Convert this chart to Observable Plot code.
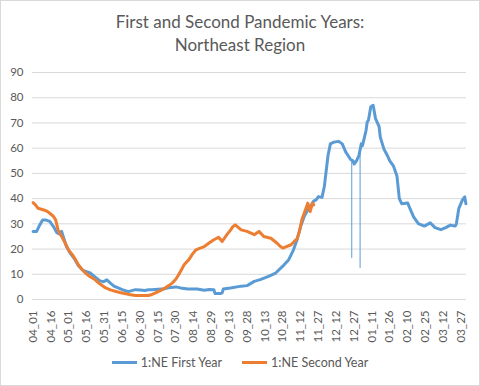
<!DOCTYPE html>
<html>
<head>
<meta charset="utf-8">
<script src="https://cdn.jsdelivr.net/npm/d3@7"></script>
<script src="https://cdn.jsdelivr.net/npm/@observablehq/plot@0.6"></script>
<style>
  body { margin: 0; background: #fff; }
  #wrap { position: relative; width: 480px; height: 386px; overflow: hidden; background: #fff; font-family: Lato, sans-serif; color: #595959; }
  #frame { position: absolute; left: 0; top: 0; right: 0; bottom: 0; border: 1px solid #d9d9d9; pointer-events: none; }
  #title { position: absolute; top: 10px; left: 0; width: 480px; text-align: center; font-size: 17px; line-height: 23px; }
  #chart { position: absolute; top: 0; left: 0; }
  #legend { position: absolute; top: 355px; left: 0; width: 480px; display: flex; justify-content: center; align-items: center; font-size: 12.5px; }
  .item { display: flex; align-items: center; margin: 0 10px; }
  .sw { width: 25px; height: 3px; margin-right: 4px; }
</style>
</head>
<body>
<div id="wrap">
  <div id="chart"></div>
  <div id="title">First and Second Pandemic Years:<br>Northeast Region</div>
  <div id="legend"></div>
  <div id="frame"></div>
</div>
<script>
// Day offsets from 04_01 (category index) and values
const firstDays = [0,3,5,8,11,14,17,20,22,24,26,28,31,35,38,42,45,48,52,56,59,62,65,68,72,75,80,83,86,90,94,97,100,105,111,116,120,124,130,138,144,148,152,153,158,159,160,166,175,180,186,191,198,204,210,215,219,222,225,228,231,234,236,238,240,243,245,246,248,250,253,257,260,263,265,267,269,270,272,274,276,277,279,280,281,282,284,286,288,291,292,295,298,300,303,306,308,310,315,317,320,324,329,334,338,343,347,351,355,356,358,361,363,364];
const firstValues = [27,27,29,31.5,31.5,31,29,26.5,26,27,24,21,18.5,16,13.5,11.5,11,10.5,9,7.5,7,7.8,6.5,5.3,4.5,3.9,3.1,3.5,3.9,3.8,3.6,3.9,3.9,4.1,4.3,4.8,5,4.6,4.2,4.2,3.7,4,3.9,2.4,2.4,2.6,4.2,4.6,5.3,5.5,7.2,7.9,9.2,10.5,13.2,15.8,19.7,23.7,28.9,32.9,35.5,37.5,39,39.5,40.8,40.5,45,49,57,61.7,62.4,62.7,61.7,58.4,57,55.5,55,53.7,55,57,61.7,61,65,67,70.4,71,76.4,77,71.7,68.5,64.4,59.7,57,55,53,49,40,38,38.3,36,32.8,30.1,29.1,30.4,28.5,27.7,28.5,29.5,29.1,30,36,39.4,40.7,38];
// Single-day drops in the first year
const spikeDays = [268, 275];
const spikeLows = [16.3, 12.3];
const spikeHighs = [55.3, 59];

const secondDays = [0,2,4,7,9,12,14,17,19,21,24,27,30,33,36,38,41,44,48,52,56,61,65,69,73,77,81,86,92,97,100,103,107,111,114,117,120,122,125,127,131,134,137,140,144,148,152,156,159,163,166,168,170,172,175,180,186,190,194,200,205,208,210,212,217,221,222,224,226,228,231,233,235,236];
const secondValues = [38.4,37.5,36.2,35.8,35.5,34.9,34.2,33,31.6,27.6,25,22.4,19.5,17.8,15.5,13.8,12,10.5,9,7.9,6.2,4.6,3.8,3.3,2.8,2.4,2,1.6,1.6,1.6,2,2.6,3.5,4.6,5.5,6.5,8,9.5,12,13.8,15.8,18,19.7,20.3,21,22.4,23.7,24.7,23,25.7,27.5,28.9,29.6,28.8,27.6,27,25.7,27,25,24.3,22.4,21,20.4,20.8,21.7,23.7,24,27,31.6,34.2,38.2,34.9,38.2,37.5];

const xTickLabels = ["04_01","04_16","05_01","05_16","05_31","06_15","06_30","07_15","07_30","08_14","08_29","09_13","09_28","10_13","10_28","11_12","11_27","12_12","12_27","01_11","01_26","02_10","02_25","03_12","03_27"];
const yTicks = [0,10,20,30,40,50,60,70,80,90];
const seriesNames = ["1:NE First Year", "1:NE Second Year"];
const colors = ["#5B9BD5", "#ED7D31"];

const DAY = 864e5;
const start = Date.UTC(2020, 3, 1);
const toDate = d => new Date(start + d * DAY);
const labelDate = s => {
  const m = +s.slice(0, 2), d = +s.slice(3);
  return new Date(Date.UTC(m >= 4 ? 2020 : 2021, m - 1, d));
};
const fmt = d3.utcFormat("%m_%d");

const first = firstDays.map((d, i) => ({date: toDate(d), v: firstValues[i]}));
const second = secondDays.map((d, i) => ({date: toDate(d), v: secondValues[i]}));
const spikes = spikeDays.map((d, i) => ({date: toDate(d), lo: spikeLows[i], hi: spikeHighs[i]}));

const chart = Plot.plot({
  width: 480,
  height: 386,
  marginLeft: 32,
  marginRight: 14,
  marginTop: 72,
  marginBottom: 87,
  style: {fontFamily: "Lato, sans-serif", fontSize: "11.5px", color: "#595959", background: "transparent"},
  x: {type: "utc", domain: [new Date(start - DAY / 2), new Date(start + 364.5 * DAY)]},
  y: {domain: [0, 90]},
  marks: [
    Plot.gridY(yTicks, {stroke: "#d9d9d9", strokeOpacity: 1, strokeWidth: 1}),
    Plot.axisY({ticks: yTicks, tickSize: 0, tickPadding: 9, label: null, fontSize: 11.5}),
    Plot.axisX({ticks: xTickLabels.map(labelDate), tickFormat: fmt, tickRotate: -90, tickSize: 0, tickPadding: 11, label: null, fontSize: 11.5}),
    Plot.ruleX(spikes, {x: "date", y1: "lo", y2: "hi", stroke: colors[0], strokeWidth: 1}),
    Plot.line(first, {x: "date", y: "v", stroke: colors[0], strokeWidth: 3, strokeLinejoin: "round", strokeLinecap: "round"}),
    Plot.line(second, {x: "date", y: "v", stroke: colors[1], strokeWidth: 3, strokeLinejoin: "round", strokeLinecap: "round"})
  ]
});
document.getElementById("chart").appendChild(chart);

const legend = document.getElementById("legend");
seriesNames.forEach((n, i) => {
  const it = document.createElement("div");
  it.className = "item";
  it.innerHTML = `<span class="sw" style="background:${colors[i]}"></span><span>${n}</span>`;
  legend.appendChild(it);
});
</script>
</body>
</html>
